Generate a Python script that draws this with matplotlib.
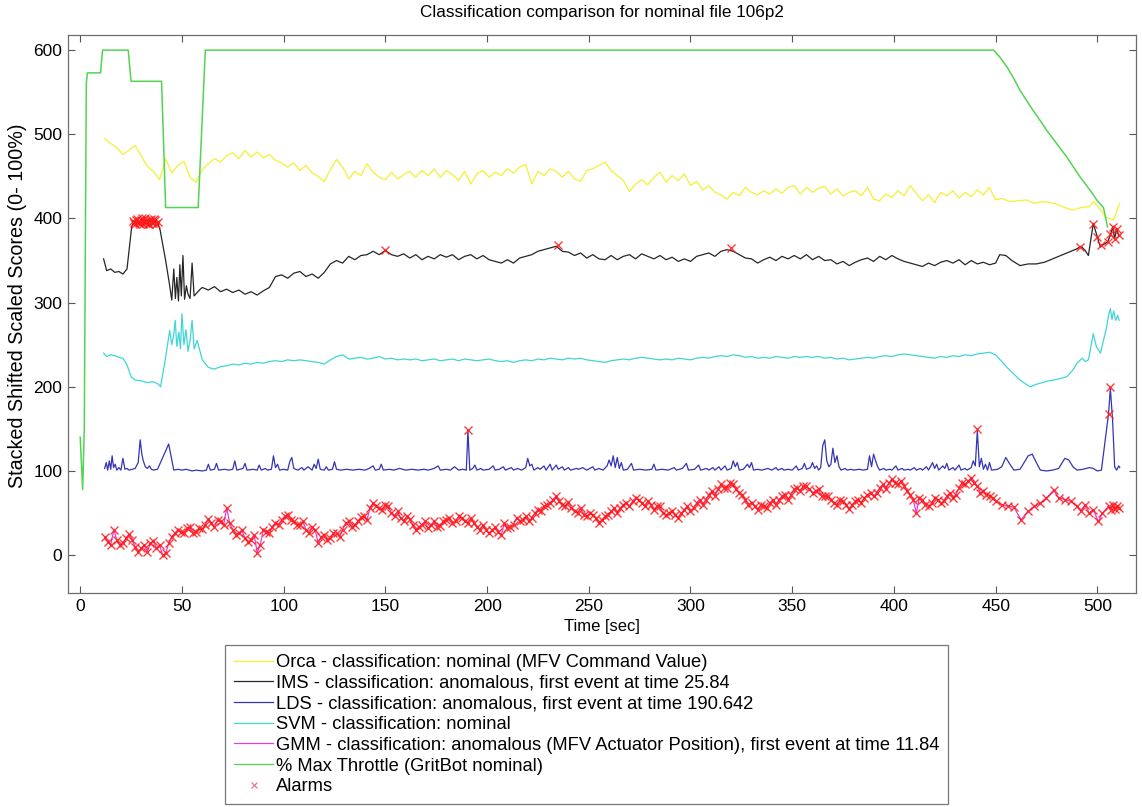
import matplotlib
matplotlib.use("Agg")
import matplotlib.pyplot as plt
from matplotlib.lines import Line2D
import numpy as np

plt.rcParams['font.family'] = ['Liberation Sans', 'DejaVu Sans']

# ---------------- data ----------------
title = "Classification comparison for nominal file 106p2"
xlabel = "Time [sec]"
ylabel = "Stacked Shifted Scaled Scores (0- 100%)"
xticks = list(range(0, 501, 50))
yticks = list(range(0, 601, 100))

labels = [
    "Orca - classification: nominal (MFV Command Value)",
    "IMS - classification: anomalous, first event at time 25.84",
    "LDS - classification: anomalous, first event at time 190.642",
    "SVM - classification: nominal",
    "GMM - classification: anomalous (MFV Actuator Position), first event at time 11.84",
    "% Max Throttle (GritBot nominal)",
    "Alarms",
]

# % Max Throttle (GritBot)
throttle_pts = [(0, 140), (1.2, 78), (2.0, 150), (3, 560), (3.5, 573), (10, 573), (11, 600),
                (23.6, 600), (25, 563), (40, 563), (42, 413), (58, 413), (61.5, 600),
                (449, 600), (452, 592), (455.6, 580), (459, 566), (462, 552), (465, 541),
                (468.5, 528), (472, 516), (475, 505), (480, 489), (485, 473), (488, 462),
                (491.6, 449), (496.6, 433), (500, 421), (503, 413), (505, 390)]

# Orca: samples every 3 s from t = 12 to 450, then tail
orca_start = 12
orca_grid = [
    495, 489, 484, 476, 481, 487, 474, 462, 456, 446,
    471, 454, 463, 468, 449, 443, 458, 465, 471, 467,
    475, 478, 471, 481, 473, 479, 472, 476, 469, 466,
    461, 466, 457, 463, 454, 450, 444, 458, 470, 461,
    447, 456, 451, 465, 455, 449, 446, 455, 447, 452,
    456, 449, 457, 451, 459, 449, 457, 452, 445, 456,
    441, 453, 457, 449, 455, 451, 459, 454, 461, 464,
    441, 456, 451, 459, 456, 449, 456, 447, 444, 457,
    459, 463, 467, 457, 451, 445, 432, 441, 446, 440,
    449, 455, 443, 451, 445, 453, 439, 444, 434, 439,
    431, 428, 423, 431, 427, 437, 431, 428, 433, 429,
    435, 430, 437, 439, 429, 437, 431, 436, 438, 429,
    435, 427, 431, 433, 427, 437, 423, 421, 429, 425,
    433, 427, 439, 430, 421, 428, 419, 431, 427, 433,
    424, 431, 426, 434, 428, 437, 422,
]
orca_tail = [(453, 424), (457, 420), (461, 421), (465, 422), (469, 418), (473, 420),
             (477, 419), (481, 416), (485, 412), (488, 410), (492, 413), (496, 414),
             (498, 420), (501, 412), (504, 402), (506, 400), (508, 398), (510, 412), (511, 418)]

# IMS
ims_head = [(11.5, 352), (13, 338), (15, 340), (17, 336), (19, 337), (21, 334), (23, 340),
            (25.3, 390), (26.5, 397), (28, 394), (30, 398), (32, 395), (34, 399), (36, 395),
            (38, 396), (39.3, 386), (42, 350), (44, 320), (45, 303), (46, 340), (46.8, 305),
            (47.5, 330), (48.3, 302), (49, 345), (49.7, 308), (50.5, 356), (51.3, 304),
            (52.2, 320), (53, 310), (54, 305), (55, 347), (56, 308), (57.5, 312), (59, 316)]
ims_start = 60
ims_grid = [
    318, 315, 319, 313, 316, 312, 315, 310, 313, 309,
    314, 318, 331, 333, 329, 335, 337, 331, 334, 329,
    336, 346, 350, 347, 355, 351, 356, 357, 361, 357,
    362, 357, 355, 358, 353, 357, 351, 355, 352, 357,
    354, 357, 351, 355, 357, 352, 356, 351, 349, 347,
    351, 347, 353, 355, 357, 361, 363, 365, 367, 361,
    360, 356, 359, 353, 357, 352, 351, 356, 351, 355,
    357, 352, 358, 355, 352, 356, 351, 354, 349, 352,
    349, 355, 357, 359, 355, 361, 363, 361, 357, 353,
    352, 347, 351, 354, 350, 355, 352, 356, 352, 357,
    351, 355, 350, 351, 346, 349, 344, 348, 351, 353,
    349, 355, 351, 356, 352, 349, 347, 345, 343, 347,
    344, 348, 350, 347, 351, 345, 350, 346, 348, 345,
    347,
]
ims_tail = [(452, 357), (455, 356), (458, 350), (462, 344), (466, 346), (470, 346),
            (474, 348), (478, 352), (482, 356), (486, 360), (490, 364), (492, 367),
            (494, 362), (495.6, 356), (498, 394), (500, 378), (501.5, 366), (503, 369),
            (505, 372), (506.4, 380), (507.5, 390), (508.5, 376), (509.5, 388), (510.5, 380)]
ims_alarms = [(26, 397), (26.5, 395), (27, 394), (27.5, 398), (28, 399), (28.5, 396),
              (29, 395), (29.5, 393), (30, 398), (30.5, 400), (31, 393), (31.5, 396),
              (32, 400), (32.5, 397), (33, 396), (33.5, 393), (34, 394), (34.5, 398),
              (35, 399), (35.5, 395), (36, 395), (36.5, 399), (37, 398), (37.5, 394),
              (38, 396),
              (150, 363), (235, 368), (320, 365), (491.6, 366), (498, 394), (500, 378),
              (502, 368), (505, 372), (506.4, 382), (507.5, 390), (508.5, 376),
              (509.5, 388), (510.5, 380)]

# LDS
lds_pts = [
    (12, 103), (12.8, 110), (13.5, 101), (14.3, 112), (15, 102), (15.7, 118), (16.4, 104),
    (17.2, 108), (18, 101), (19, 104), (20, 101), (21, 115), (22, 102), (23, 103), (24, 101),
    (25.5, 102), (27, 103), (28.5, 110), (29.5, 137), (30.3, 120), (31, 112), (32, 105),
    (33, 103), (34, 106), (35, 102), (36, 101), (38, 102), (43.5, 132), (46, 101), (48, 102),
    (50, 101), (52, 102), (55, 100), (57, 101), (60, 100), (62, 101), (63, 108), (64, 101),
    (66, 102), (67, 109), (68, 101), (71, 102), (73, 101), (75, 102), (76, 112), (77, 101),
    (80, 103), (81, 109), (82, 101), (85, 102), (87, 101), (88, 107), (89, 101), (91, 103),
    (92, 101), (94, 102), (95, 118), (96, 104), (97, 108), (98, 101), (100, 102), (102, 101),
    (103, 111), (104, 116), (105, 103), (107, 101), (109, 104), (110, 101), (112, 105),
    (114, 101), (115, 108), (116, 103), (117, 114), (118, 102), (120, 101), (121, 105),
    (122, 101), (124, 102), (125, 111), (126, 102), (128, 101), (131, 102), (134, 101),
    (137, 102), (140, 101), (142, 103), (144, 106), (145, 101), (147, 102), (148, 108),
    (149, 101), (152, 102), (154, 101), (157, 103), (160, 101), (163, 102), (166, 101),
    (169, 102), (171, 101), (174, 103), (176, 106), (177, 101), (180, 102), (182, 101),
    (184, 105), (186, 101), (188, 102), (189.8, 101), (190.6, 148), (191.5, 101), (193, 103),
    (194, 107), (195, 101), (197, 103), (198, 101), (201, 102), (203, 106), (204, 101),
    (206, 102), (208, 105), (209, 101), (212, 104), (213, 101), (215, 103), (217, 101),
    (219, 104), (220, 115), (221, 106), (222, 108), (223, 101), (225, 104), (226, 102),
    (228, 106), (229, 101), (231, 108), (232, 101), (234, 107), (235, 102), (237, 105),
    (238, 101), (240, 104), (241, 101), (244, 103), (245, 102), (247, 104), (249, 101),
    (252, 105), (253, 101), (255, 103), (257, 101), (259, 106), (260, 113), (261, 106),
    (262, 118), (263, 104), (264, 116), (265, 103), (266, 110), (267, 101), (269, 102),
    (271, 109), (272, 101), (275, 102), (278, 101), (281, 102), (282, 108), (283, 101),
    (286, 102), (289, 101), (292, 104), (293, 101), (296, 103), (298, 109), (299, 101),
    (302, 102), (304, 107), (305, 101), (308, 103), (309, 101), (311, 104), (312, 101),
    (314, 105), (315, 101), (317, 106), (318, 101), (320, 103), (321, 112), (322, 105),
    (323, 110), (324, 101), (326, 102), (328, 108), (329, 104), (330, 110), (331, 101),
    (333, 102), (335, 101), (338, 103), (340, 101), (342, 104), (343, 101), (345, 103),
    (346, 101), (348, 102), (350, 101), (352, 106), (353, 101), (355, 103), (356, 109),
    (357, 102), (359, 104), (360, 110), (361, 103), (362, 106), (363, 101), (364, 104),
    (365, 130), (366, 137), (367, 112), (368, 105), (369, 108), (370, 127), (371, 110),
    (372, 118), (373, 105), (374, 101), (376, 103), (377, 101), (379, 102), (380, 101),
    (383, 102), (385, 101), (387, 102), (388, 118), (389, 105), (390, 120), (391, 112),
    (392, 105), (393, 101), (395, 103), (396, 101), (398, 102), (399, 101), (401, 106),
    (402, 101), (404, 103), (405, 101), (407, 102), (408, 101), (410, 104), (411, 101),
    (413, 103), (414, 101), (416, 105), (417, 101), (419, 110), (420, 103), (421, 108),
    (422, 101), (424, 106), (425, 103), (426, 109), (427, 101), (429, 104), (430, 101),
    (432, 107), (433, 101), (435, 103), (436, 101), (438, 104), (439, 112), (440, 106),
    (441, 148), (442, 105), (443, 115), (444, 102), (445, 108), (446, 101), (447, 110),
    (448, 101), (451, 102), (453, 105), (455, 116), (457, 108), (459, 101), (462, 102),
    (464, 110), (466, 118), (468, 120), (470, 110), (472, 101), (475, 100), (478, 101),
    (481, 103), (484, 115), (486, 113), (488, 105), (490, 101), (493, 102), (496, 104),
    (498, 103), (500, 100), (502, 101), (505.5, 168), (506.4, 198), (507.5, 160),
    (508.5, 105), (509.5, 101), (510.5, 106), (511, 104),
]
lds_alarms = [(190.6, 149), (441, 150), (505.5, 168), (506.4, 200)]

# SVM
svm_head = [(11.5, 240), (13, 236), (15, 238), (17, 237), (19, 235), (21, 234), (23, 226),
            (25, 212), (27, 208), (30, 207), (33, 205), (36, 206), (38.5, 203), (39.5, 200),
            (42, 235), (44, 267), (45, 250), (46, 262), (46.7, 279), (47.5, 248), (48.5, 265),
            (49.3, 245), (50, 287), (51, 250), (52, 268), (53, 242), (54, 255), (55, 279),
            (56, 245), (57.5, 255)]
svm_start = 60
svm_grid = [
    232, 223, 221, 224, 225, 227, 226, 228, 227, 229,
    228, 230, 231, 230, 232, 231, 232, 231, 230, 229,
    227, 232, 236, 238, 233, 234, 235, 233, 234, 236,
    233, 234, 232, 233, 232, 233, 231, 232, 233, 231,
    232, 233, 231, 233, 232, 231, 232, 233, 231, 230,
    231, 229, 231, 232, 231, 233, 232, 234, 233, 232,
    234, 233, 234, 232, 231, 230, 229, 231, 232, 233,
    232, 234, 235, 234, 233, 232, 233, 232, 234, 233,
    232, 234, 235, 234, 236, 237, 236, 238, 237, 235,
    236, 234, 235, 234, 236, 235, 234, 236, 235, 236,
    235, 236, 234, 235, 233, 234, 232, 233, 234, 235,
    234, 236, 237, 236, 238, 239, 238, 237, 236, 235,
    234, 236, 235, 237, 236, 238, 237, 239, 240, 241,
    238,
]
svm_tail = [(453, 230), (456, 222), (459, 215), (462, 208), (465, 203), (467, 200),
            (470, 203), (473, 205), (476, 207), (478.5, 208), (482, 210), (485, 212),
            (488, 220), (490, 228), (492.6, 234), (494, 230), (495.6, 232), (497, 250),
            (498, 263), (499.5, 248), (501.5, 240), (503, 255), (504.5, 270), (505.5, 285),
            (506.4, 293), (507.2, 280), (508, 290), (509, 279), (510, 285), (510.7, 279)]

# GMM: samples every 3 s from t = 12 to 450 (grid) and the in-between samples
# at t = 13.5 + 3k (mid), then a sparse tail
gmm_start = 12
gmm_grid = [
    22, 12, 18, 14, 25, 10, 8, 4, 17, 12,
    2, 22, 30, 26, 33, 28, 31, 43, 34, 40,
    56, 30, 26, 20, 18, 3, 30, 26, 38, 42,
    48, 40, 36, 30, 33, 14, 24, 20, 26, 30,
    40, 36, 45, 42, 62, 56, 60, 50, 52, 40,
    43, 30, 36, 32, 40, 35, 42, 38, 46, 40,
    44, 34, 36, 26, 33, 24, 32, 36, 41, 46,
    44, 54, 58, 62, 70, 60, 63, 52, 56, 46,
    48, 38, 46, 52, 50, 60, 58, 68, 62, 64,
    54, 58, 48, 52, 44, 54, 52, 62, 60, 72,
    70, 84, 80, 84, 74, 66, 62, 54, 58, 62,
    60, 70, 66, 78, 76, 82, 74, 78, 70, 66,
    60, 64, 55, 64, 62, 72, 70, 80, 78, 90,
    84, 82, 72, 50, 66, 58, 68, 62, 70, 68,
    80, 84, 92, 82, 76, 70, 64,
]
gmm_mid_start = 13.5
gmm_mid = [
    16, 30, 12, 20, 18, 4, 12, 14, 8, 0,
    14, 26, 28, 32, 26, 32, 36, 38, 42, 36,
    38, 24, 30, 16, 24, 12, 28, 34, 36, 46,
    42, 36, 40, 26, 30, 22, 18, 26, 22, 38,
    34, 40, 46, 56, 58, 54, 58, 46, 44, 46,
    36, 34, 40, 36, 34, 40, 44, 40, 44, 38,
    38, 30, 30, 30, 28, 38, 34, 44, 42, 40,
    50, 52, 60, 66, 64, 58, 56, 50, 48, 50,
    44, 42, 48, 56, 56, 62, 64, 66, 58, 60,
    58, 50, 50, 48, 50, 58, 56, 66, 66, 76,
    78, 80, 86, 78, 72, 60, 58, 60, 56, 66,
    66, 72, 72, 80, 82, 78, 76, 70, 70, 62,
    66, 60, 60, 66, 68, 74, 74, 84, 86, 86,
    88, 76, 66, 68, 60, 62, 66, 64, 74, 72,
    86, 88, 86, 74, 72, 68,
]
gmm_tail = [(453, 60), (456, 58), (459, 57), (462.5, 42), (466, 52), (469, 58), (472, 62),
            (475, 68), (478.5, 77), (481, 68), (484, 66), (487, 64), (490, 58), (492, 52),
            (494, 60), (496, 50), (498, 54), (500.5, 40), (502.5, 50), (505.5, 58),
            (506.5, 54), (507.5, 60), (508.5, 55), (509.5, 58), (510.5, 56)]

# ---------------- colours ----------------
c_orca = "#f4f032"
c_ims = "#262626"
c_lds = "#3434b4"
c_svm = "#3ed6d6"
c_gmm = "#e23ee2"
c_thr = "#52d452"
c_alarm = "#ff1a1a"


def unzip(pts):
    a = np.array(pts, dtype=float)
    return a[:, 0], a[:, 1]


def grid_series(start, vals, head=None, tail=None, step=3.0):
    t = start + step * np.arange(len(vals))
    v = np.array(vals, dtype=float)
    parts_t, parts_v = [], []
    if head:
        ht, hv = unzip(head)
        parts_t.append(ht); parts_v.append(hv)
    parts_t.append(t); parts_v.append(v)
    if tail:
        tt, tv = unzip(tail)
        parts_t.append(tt); parts_v.append(tv)
    return np.concatenate(parts_t), np.concatenate(parts_v)


orca_t, orca_v = grid_series(orca_start, orca_grid, tail=orca_tail)
ims_t, ims_v = grid_series(ims_start, ims_grid, head=ims_head, tail=ims_tail)
lds_t, lds_v = unzip(lds_pts)
svm_t, svm_v = grid_series(svm_start, svm_grid, head=svm_head, tail=svm_tail)

g1_t, g1_v = grid_series(gmm_start, gmm_grid)
g2_t, g2_v = grid_series(gmm_mid_start, gmm_mid)
g3_t, g3_v = unzip(gmm_tail)
gmm_t = np.concatenate([g1_t, g2_t, g3_t])
gmm_v = np.concatenate([g1_v, g2_v, g3_v])
order = np.argsort(gmm_t, kind="stable")
gmm_t, gmm_v = gmm_t[order], gmm_v[order]

thr_t, thr_v = unzip(throttle_pts)

ia_t, ia_v = unzip(ims_alarms)
la_t, la_v = unzip(lds_alarms)
al_t = np.concatenate([gmm_t, ia_t, la_t])
al_v = np.concatenate([gmm_v, ia_v, la_v])

# ---------------- figure ----------------
W, H = 1142, 807
fig = plt.figure(figsize=(W / 100, H / 100), dpi=100)
ax = fig.add_axes([68 / W, 1 - 593 / H, (1136 - 68) / W, (593 - 35) / H])

lw = 0.9
ax.plot(orca_t, orca_v, color=c_orca, lw=lw)
ax.plot(ims_t, ims_v, color=c_ims, lw=lw)
ax.plot(lds_t, lds_v, color=c_lds, lw=lw)
ax.plot(svm_t, svm_v, color=c_svm, lw=lw)
ax.plot(gmm_t, gmm_v, color=c_gmm, lw=lw)
ax.plot(thr_t, thr_v, color=c_thr, lw=1.1)
ax.plot(al_t, al_v, linestyle="none", marker="x", markersize=6, mew=1.0,
        color=c_alarm, alpha=0.85)

ax.set_xlim(-6, 519)
ax.set_ylim(-45, 618)
ax.set_xticks(xticks)
ax.set_yticks(yticks)
ax.tick_params(direction="in", top=True, right=True, length=5, width=0.8,
               color="#555555", labelsize=12.5, pad=4)
for s in ax.spines.values():
    s.set_color("#6e6e6e")
    s.set_linewidth(0.9)

fig.text(602 / W, 1 - 12 / H, title, ha="center", va="center", fontsize=12.3)
fig.text(602 / W, 1 - 626 / H, xlabel, ha="center", va="center", fontsize=12)
fig.text(18 / W, 1 - 306 / H, ylabel, ha="center", va="center", fontsize=14.2,
         rotation=90)

handles = [Line2D([], [], color=c_orca, lw=lw),
           Line2D([], [], color=c_ims, lw=lw),
           Line2D([], [], color=c_lds, lw=lw),
           Line2D([], [], color=c_svm, lw=lw),
           Line2D([], [], color=c_gmm, lw=lw),
           Line2D([], [], color=c_thr, lw=lw),
           Line2D([], [], linestyle="none", marker="x", markersize=4.5, mew=0.8,
                  color="#e0708a")]
leg = fig.legend(handles, labels, loc="upper left",
                 bbox_to_anchor=(225 / W, 1 - 645 / H), frameon=True, fancybox=False,
                 edgecolor="#555555", fontsize=13.25, borderpad=0.5, handlelength=2.1,
                 handletextpad=0.15, labelspacing=0.2, borderaxespad=0)
leg.get_frame().set_linewidth(0.9)

fig.savefig("out.png", dpi=100)
